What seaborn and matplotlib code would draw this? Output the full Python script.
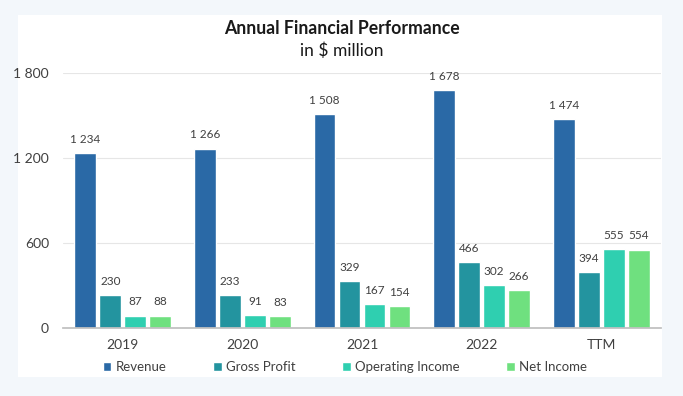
import matplotlib
matplotlib.use("Agg")
import matplotlib.pyplot as plt
import seaborn as sns
import pandas as pd
from matplotlib.patches import Rectangle

categories = ["2019", "2020", "2021", "2022", "TTM"]
revenue = [1234, 1266, 1508, 1678, 1474]
gross_profit = [230, 233, 329, 466, 394]
operating_income = [87, 91, 167, 302, 555]
net_income = [88, 83, 154, 266, 554]
series_names = ["Revenue", "Gross Profit", "Operating Income", "Net Income"]
colors = ["#2a69a6", "#23949f", "#2fcfb0", "#6fe07f"]
yticks = [0, 600, 1200, 1800]

rows = []
for name, vals in zip(series_names, [revenue, gross_profit, operating_income, net_income]):
    for c, v in zip(categories, vals):
        rows.append({"Year": c, "Metric": name, "Value": v})
df = pd.DataFrame(rows)

sns.set_theme(style="white")
plt.rcParams["font.family"] = ["Lato", "DejaVu Sans"]
text_color = "#404040"

fig = plt.figure(figsize=(6.83, 3.96), dpi=100)
fig.patch.set_facecolor("#f3f7fb")
fig.add_artist(Rectangle((18/683, 1-377/396), (662-18)/683, (377-15)/396,
                         transform=fig.transFigure, facecolor="white", edgecolor="none", zorder=0))

ax = fig.add_axes([63/683, 1-328/396, (661-63)/683, (328-73)/396])
ax.set_facecolor("white")
sns.barplot(data=df, x="Year", y="Value", hue="Metric", order=categories,
            hue_order=series_names, palette=colors, width=0.835, gap=0.13,
            saturation=1, ax=ax, legend=True)

ax.set_ylim(0, 1800)
ax.set_yticks(yticks)
ax.set_yticklabels([f"{v:,}".replace(",", " ") for v in yticks], color=text_color, fontsize=10)
ax.yaxis.grid(True, color="#e6e6e6", linewidth=0.8)
ax.set_axisbelow(True)
ax.set_xlim(-0.5, 4.5)
ax.set_xlabel("")
ax.set_ylabel("")
for s in ["top", "right", "left"]:
    ax.spines[s].set_visible(False)
ax.spines["bottom"].set_color("#bfbfbf")
ax.tick_params(axis="y", length=0, pad=10)
ax.tick_params(axis="x", which="major", length=0, pad=8, labelsize=10, labelcolor=text_color)
ax.set_xticks([i - 0.5 for i in range(6)], minor=True)
ax.tick_params(axis="x", which="minor", length=5, color="#bfbfbf", width=0.8)

for cont in ax.containers:
    ax.bar_label(cont, labels=[f"{int(v):,}".replace(",", " ") for v in cont.datavalues],
                 padding=6, fontsize=8.5, color=text_color)

handles, labels = ax.get_legend_handles_labels()
ax.get_legend().remove()
fig.legend(handles, labels, loc="center", bbox_to_anchor=(0.505, 1-367/396), ncol=4,
           frameon=False, fontsize=9.5, handlelength=0.65, handleheight=0.65,
           handletextpad=0.35, columnspacing=3.5, labelcolor=text_color)

fig.text(0.5, 1-29/396, "Annual Financial Performance", ha="center", va="center",
         fontsize=12.7, fontweight="bold", color="#1a1a1a")
fig.text(0.5, 1-51/396, "in $ million", ha="center", va="center",
         fontsize=12.5, color="#1a1a1a")

fig.savefig("out.png", dpi=100, facecolor=fig.get_facecolor())
